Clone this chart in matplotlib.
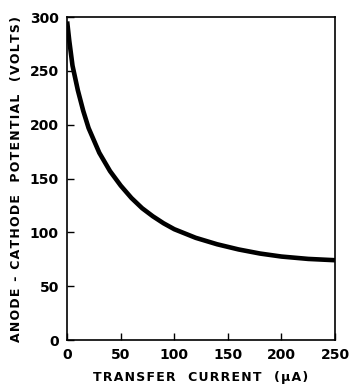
import matplotlib
matplotlib.use("Agg")
import matplotlib.pyplot as plt

# values
current = [0, 2, 5, 10, 15, 20, 30, 40, 50, 60, 70, 80, 90, 100, 120, 140, 160, 180, 200, 225, 250]
voltage = [296, 278, 255, 232, 213, 197, 174, 157, 143.5, 132, 122.5, 115, 108.5, 103, 95, 89, 84.2, 80.4, 77.6, 75.4, 74.2]

x_ticks = [0, 50, 100, 150, 200, 250]
y_ticks = [0, 50, 100, 150, 200, 250, 300]


def spaced(s):
    # mimic the wide letter spacing of the original lettering
    return "\u200a".join(s)


plt.rcParams['font.family'] = ['DejaVu Sans']
plt.rcParams['font.weight'] = 'bold'

fig = plt.figure(figsize=(3.61, 3.90), dpi=100)
ax = fig.add_axes([0.186, 0.128, 0.742, 0.828])

ax.plot(current, voltage, color='black', lw=3.3, solid_capstyle='butt', solid_joinstyle='round')

ax.set_xlim(0, 250)
ax.set_ylim(0, 300)
ax.set_xticks(x_ticks)
ax.set_yticks(y_ticks)
ax.tick_params(direction='in', length=5, width=1, labelsize=10, pad=6)
for s in ax.spines.values():
    s.set_linewidth(1.2)

ax.set_xlabel(spaced("TRANSFER  CURRENT  (\u03bcA)"), fontsize=9, fontweight='bold', labelpad=6)
ax.set_ylabel(spaced("ANODE - CATHODE  POTENTIAL  (VOLTS)"), fontsize=9, fontweight='bold', labelpad=5)

fig.savefig("out.png", dpi=100)
